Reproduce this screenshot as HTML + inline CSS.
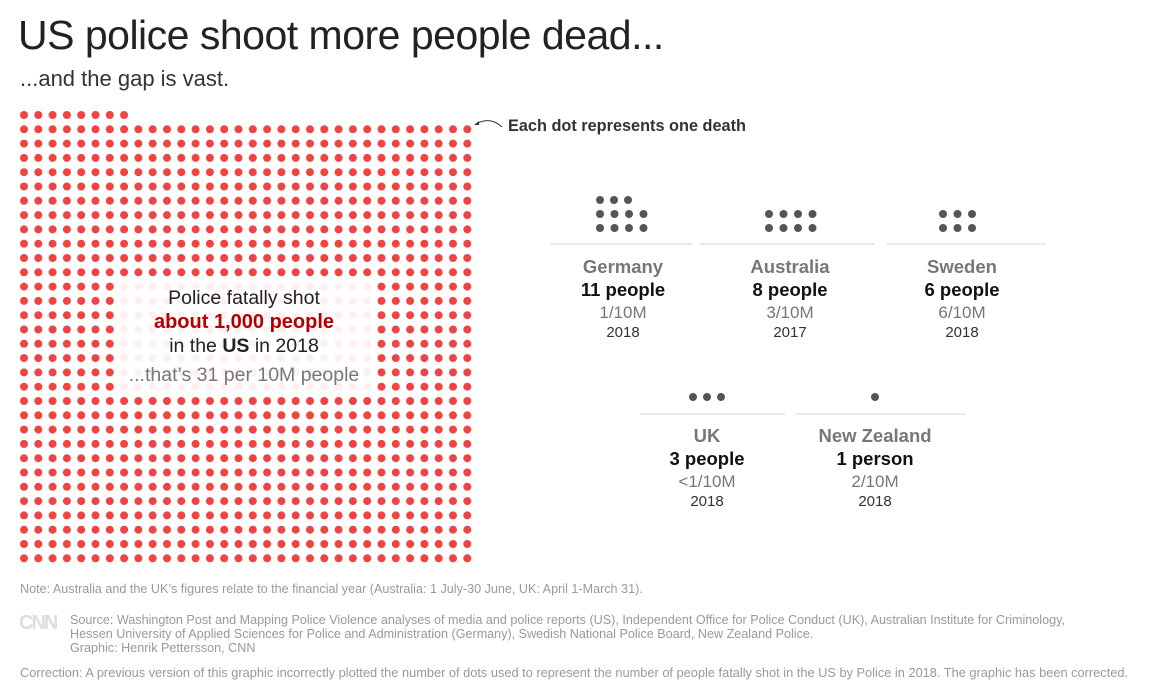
<!DOCTYPE html>
<html><head><meta charset="utf-8"><style>
body{margin:0;width:1172px;height:694px;background:#fff;font-family:"Liberation Sans",sans-serif;position:relative;overflow:hidden}
.a{position:absolute;white-space:nowrap}
.c{position:absolute;text-align:center;transform:translateX(-50%);white-space:nowrap}
.n{font-weight:bold;color:#777;font-size:18.5px}
.p{font-weight:bold;color:#111;font-size:18.5px}
.r{color:#777;font-size:17px}
.y{color:#333;font-size:15px}
.f{color:#999;font-size:12.6px}
</style></head><body>
<div class="a" style="left:18px;top:12px;font-size:41px;color:#222;letter-spacing:-0.5px">US police shoot more people dead...</div>
<div class="a" style="left:20px;top:66px;font-size:22px;color:#333">...and the gap is vast.</div>
<svg class="a" style="left:0;top:0" width="1172" height="694" id="s"></svg>
<div class="a" style="left:508px;top:117px;font-size:16.3px;font-weight:bold;color:#333">Each dot represents one death</div>
<div class="c" style="left:244px;top:287px;font-size:19.5px;color:#222">Police fatally shot</div>
<div class="c" style="left:244px;top:311px;font-size:20px;color:#b40000;font-weight:bold">about 1,000 people</div>
<div class="c" style="left:244px;top:335px;font-size:19.5px;color:#222">in the <b>US</b> in 2018</div>
<div class="c" style="left:244px;top:364px;font-size:19.5px;color:#777">...that’s 31 per 10M people</div>

<div class="c n" style="left:623px;top:256px">Germany</div><div class="c p" style="left:623px;top:279px">11 people</div><div class="c r" style="left:623px;top:303px">1/10M</div><div class="c y" style="left:623px;top:324px">2018</div>
<div class="c n" style="left:790px;top:256px">Australia</div><div class="c p" style="left:790px;top:279px">8 people</div><div class="c r" style="left:790px;top:303px">3/10M</div><div class="c y" style="left:790px;top:324px">2017</div>
<div class="c n" style="left:962px;top:256px">Sweden</div><div class="c p" style="left:962px;top:279px">6 people</div><div class="c r" style="left:962px;top:303px">6/10M</div><div class="c y" style="left:962px;top:324px">2018</div>
<div class="c n" style="left:707px;top:425px">UK</div><div class="c p" style="left:707px;top:448px">3 people</div><div class="c r" style="left:707px;top:472px">&lt;1/10M</div><div class="c y" style="left:707px;top:493px">2018</div>
<div class="c n" style="left:875px;top:425px">New Zealand</div><div class="c p" style="left:875px;top:448px">1 person</div><div class="c r" style="left:875px;top:472px">2/10M</div><div class="c y" style="left:875px;top:493px">2018</div>

<div class="a f" style="left:20px;top:582px">Note: Australia and the UK’s figures relate to the financial year (Australia: 1 July-30 June, UK: April 1-March 31).</div>
<div class="a" style="left:19px;top:612px;font-size:20px;font-weight:bold;color:#ddd;letter-spacing:-2px">CNN</div>
<div class="a f" style="left:70px;top:613px;line-height:14px">Source: Washington Post and Mapping Police Violence analyses of media and police reports (US), Independent Office for Police Conduct (UK), Australian Institute for Criminology,<br>Hessen University of Applied Sciences for Police and Administration (Germany), Swedish National Police Board, New Zealand Police.<br>Graphic: Henrik Pettersson, CNN</div>
<div class="a f" style="left:20px;top:665px;font-size:12.8px">Correction: A previous version of this graphic incorrectly plotted the number of dots used to represent the number of people fatally shot in the US by Police in 2018. The graphic has been corrected.</div>
<script>
var s=document.getElementById('s'),h='';
for(var j=0;j<32;j++)for(var i=0;i<32;i++){
 if(j==0&&i>=8)continue;
 var x=24+i*14.3,y=115+j*14.3,col='#ee4444',op=1;
 if(i>=7&&i<=24&&j>=12&&j<=19){op=0.08;}
 h+='<circle cx="'+x.toFixed(1)+'" cy="'+y.toFixed(1)+'" r="4" fill="'+col+'" opacity="'+op+'"/>';}
function g(pts){pts.forEach(function(p){h+='<circle cx="'+p[0]+'" cy="'+p[1]+'" r="4" fill="#555"/>';});}
var P=[];
[600,614,628].forEach(function(x){P.push([x,200]);});
[600,614.5,629,643.5].forEach(function(x){P.push([x,214]);P.push([x,228]);});
[769,783.5,798,812.5].forEach(function(x){P.push([x,214]);P.push([x,228]);});
[943,957.5,972].forEach(function(x){P.push([x,214]);P.push([x,228]);});
[693,707,721].forEach(function(x){P.push([x,397]);});
P.push([875,397]);g(P);
[[550,692,244],[700,875,244],[887,1046,244],[640,785,414],[795,966,414]].forEach(function(l){h+='<line x1="'+l[0]+'" x2="'+l[1]+'" y1="'+l[2]+'" y2="'+l[2]+'" stroke="#e4e4e4" stroke-width="1.5"/>';});
h+='<path d="M502,127 Q490,116 476,124" fill="none" stroke="#333" stroke-width="1"/><path d="M474,125 l5,-4 l0,4z" fill="#333"/>';
s.innerHTML=h;
</script>
</body></html>
